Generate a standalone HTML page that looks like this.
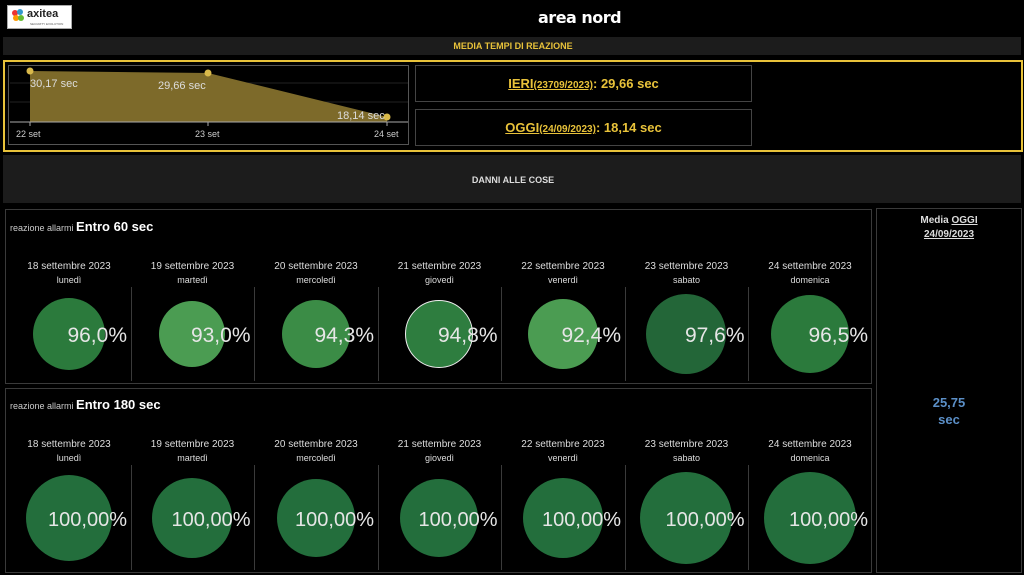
<!DOCTYPE html>
<html><head><meta charset="utf-8"><style>
*{margin:0;padding:0;box-sizing:border-box}
body{width:1024px;height:575px;background:#000;position:relative;overflow:hidden;font-family:"Liberation Sans",sans-serif;color:#ddd}
.a{position:absolute}
.bar{background:#1c1c1c}
.box{border:1px solid #3a3a3a}
.c{text-align:center}
.dt{font-size:10px;color:#ddd;width:124px;text-align:center}
.circ{position:absolute;border-radius:50%}
.pct{position:absolute;text-align:right;color:#e6e6e6}
.vl{position:absolute;width:1px;background:#3a3a3a}
</style></head><body>
<div class="a" style="left:7px;top:5px;width:65px;height:24px;background:#fff;border:1px solid #aaa">
<div class="a" style="left:4px;top:4px;width:6px;height:6px;border-radius:50%;background:#e33"></div>
<div class="a" style="left:9px;top:3px;width:6px;height:6px;border-radius:50%;background:#39c"></div>
<div class="a" style="left:5px;top:9px;width:6px;height:6px;border-radius:50%;background:#f90"></div>
<div class="a" style="left:10px;top:9px;width:6px;height:6px;border-radius:50%;background:#6b3"></div>
<div class="a" style="left:19px;top:2px;font-size:11px;font-weight:bold;color:#222">axitea</div>
<div class="a" style="left:22px;top:16px;font-size:3px;color:#555">SECURITY EVOLUTION</div>
</div>
<div class="a" style="left:538px;top:8px;font-size:16px;font-weight:bold;color:#fff;font-family:'DejaVu Sans',sans-serif;letter-spacing:-0.5px">area nord</div>
<div class="a bar" style="left:3px;top:37px;width:1018px;height:18px"></div>
<div class="a c" style="left:3px;top:41px;width:1020px;font-size:9px;font-weight:bold;color:#e8c23a">MEDIA TEMPI DI REAZIONE</div>
<div class="a" style="left:3px;top:60px;width:1020px;height:92px;border:2px solid #e8c23a"></div>
<div class="a" style="left:8px;top:65px;width:401px;height:80px;border:1px solid #555"></div>
<svg class="a" style="left:0;top:0" width="420" height="150">
<line x1="10" y1="83" x2="408" y2="83" stroke="#222"/><line x1="10" y1="102" x2="408" y2="102" stroke="#222"/>
<polygon points="30,71 208,73 387,117 387,122 30,122" fill="#7d6a2a"/>
<line x1="10" y1="122" x2="408" y2="122" stroke="#aaa"/>
<line x1="30" y1="122" x2="30" y2="126" stroke="#aaa"/><line x1="208" y1="122" x2="208" y2="126" stroke="#aaa"/><line x1="387" y1="122" x2="387" y2="126" stroke="#aaa"/>
<circle cx="30" cy="71" r="3.5" fill="#d9b94a"/><circle cx="208" cy="73" r="3.5" fill="#d9b94a"/><circle cx="387" cy="117" r="3.5" fill="#d9b94a"/>
<g font-family="Liberation Sans" font-size="11" fill="#ddd"><text x="30" y="87">30,17 sec</text><text x="158" y="89">29,66 sec</text><text x="337" y="119">18,14 sec</text></g>
<g font-family="Liberation Sans" font-size="9" fill="#ccc"><text x="16" y="137">22 set</text><text x="195" y="137">23 set</text><text x="374" y="137">24 set</text></g>
</svg>
<div class="a box" style="left:415px;top:65px;width:337px;height:37px;border-color:#444"></div>
<div class="a c" style="left:415px;top:76px;width:337px;font-size:13px;font-weight:bold;color:#e8c23a"><u>IERI<span style="font-size:10px">(23709/2023)</span></u>: 29,66 sec</div>
<div class="a box" style="left:415px;top:109px;width:337px;height:37px;border-color:#444"></div>
<div class="a c" style="left:415px;top:120px;width:337px;font-size:13px;font-weight:bold;color:#e8c23a"><u>OGGI<span style="font-size:10px">(24/09/2023)</span></u>: 18,14 sec</div>
<div class="a bar" style="left:3px;top:155px;width:1018px;height:48px"></div>
<div class="a c" style="left:3px;top:175px;width:1020px;font-size:9px;font-weight:bold;color:#ddd">DANNI ALLE COSE</div>
<div class="a box" style="left:5px;top:209px;width:867px;height:175px"></div>
<div class="a" style="left:10px;top:219px;font-size:9px;color:#ccc">reazione allarmi <span style="font-size:13px;font-weight:bold;color:#fff">Entro 60 sec</span></div>
<div class="a box" style="left:5px;top:388px;width:867px;height:185px"></div>
<div class="a" style="left:10px;top:397px;font-size:9px;color:#ccc">reazione allarmi <span style="font-size:13px;font-weight:bold;color:#fff">Entro 180 sec</span></div>
<div class="a box" style="left:876px;top:208px;width:146px;height:365px"></div>
<div class="a c" style="left:876px;top:214px;width:146px;font-size:10px;font-weight:bold;color:#ddd;line-height:14px">Media <u>OGGI</u><br><u>24/09/2023</u></div>
<div class="a c" style="left:876px;top:394px;width:146px;font-size:13px;font-weight:bold;color:#5b8fc7;line-height:17px">25,75<br>sec</div>
<div id="g"></div>
<script>
var dates=["18","19","20","21","22","23","24"],days=["lunedì","martedì","mercoledì","giovedì","venerdì","sabato","domenica"];
var r1=[[36,"#2b7a3c","96,0%"],[33,"#4b9c52","93,0%"],[34,"#3b8c46","94,3%"],[34,"#2e7d3f","94,8%"],[35,"#4b9c52","92,4%"],[40,"#236638","97,6%"],[39,"#2b7a3c","96,5%"]];
var r2=[43,40,39,39,40,46,46];
var h="";
for(var i=0;i<7;i++){var x0=7+i*123.5,cx=x0+61.5,xr=x0+120;
[[267,334,r1[i][0],r1[i][1],r1[i][2],287,381,21],[445,518,r2[i],"#236e3c","100,00%",465,570,20]].forEach(function(q){
h+='<div class="a dt" style="left:'+x0+'px;top:'+(q[0]-6)+'px">'+dates[i]+' settembre 2023</div>';
h+='<div class="a dt" style="left:'+x0+'px;top:'+(q[0]+8)+'px;font-size:9px">'+days[i]+'</div>';
if(i>0)h+='<div class="vl" style="left:'+x0+'px;top:'+q[5]+'px;height:'+(q[6]-q[5])+'px"></div>';
var bd=(q[4]=="94,8%")?"border:1.5px solid #eee;":"";
h+='<div class="circ" style="'+bd+'left:'+(cx-q[2])+'px;top:'+(q[1]-q[2])+'px;width:'+(2*q[2])+'px;height:'+(2*q[2])+'px;background:'+q[3]+'"></div>';
h+='<div class="pct" style="left:'+(xr-110)+'px;width:110px;top:'+(q[1]-q[7]*0.6+3)+'px;font-size:'+q[7]+'px">'+q[4]+'</div>';
});}
document.getElementById("g").innerHTML=h;
</script>
</body></html>
